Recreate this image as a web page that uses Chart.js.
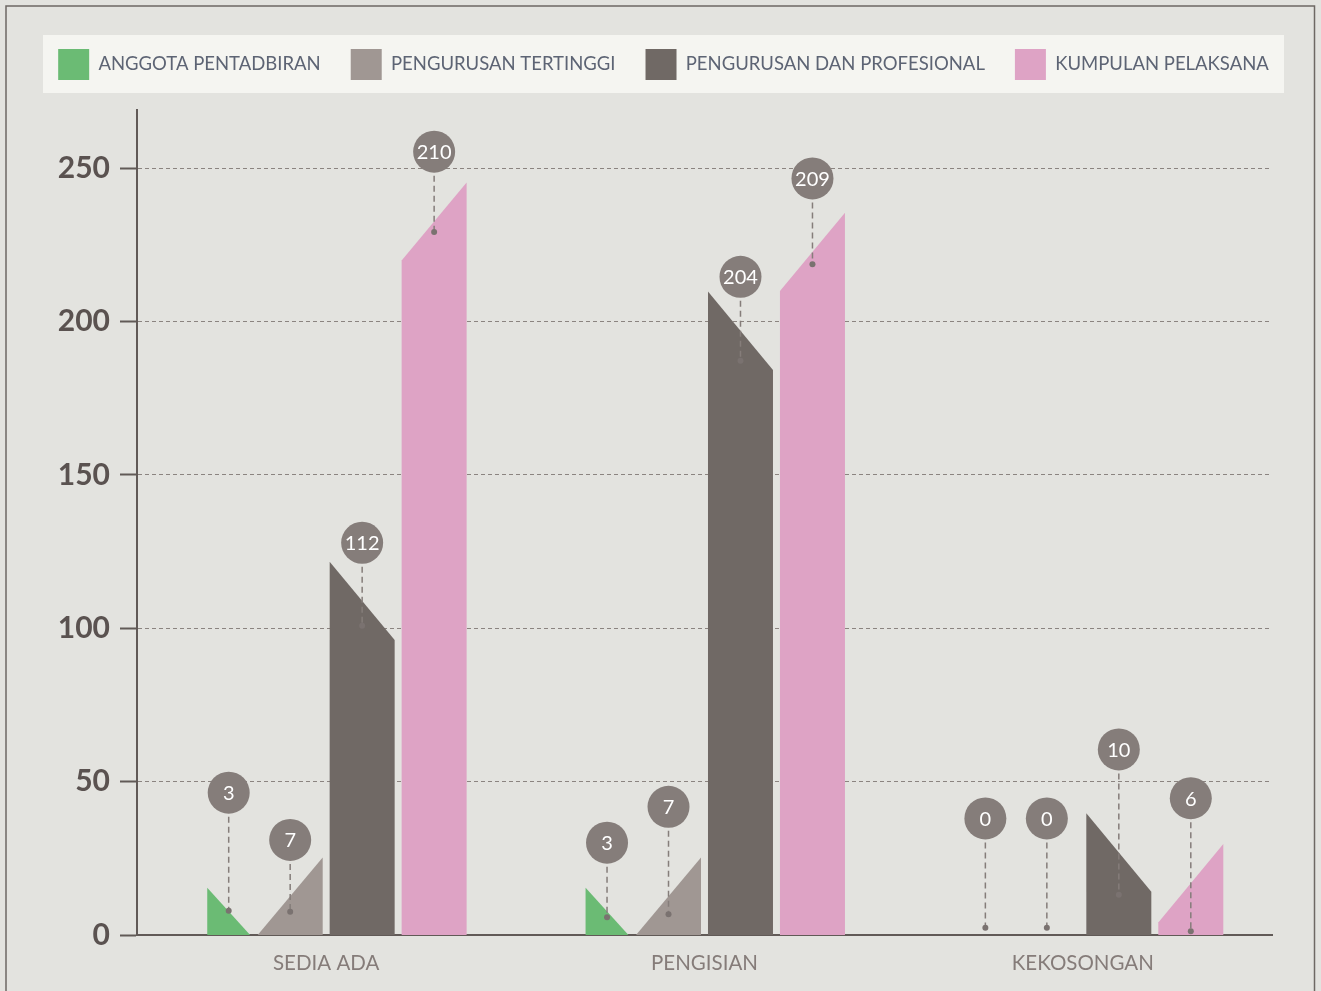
<!DOCTYPE html>
<html>
<head>
<meta charset="utf-8">
<style>
html,body{margin:0;padding:0;background:#e3e3df;}
#wrap{width:1321px;height:991px;position:relative;overflow:hidden;}
canvas{display:block;}
</style>
<script src="https://cdn.jsdelivr.net/npm/chart.js@4.4.1/dist/chart.umd.min.js"></script>
</head>
<body>
<div id="wrap"><canvas id="c" width="1321" height="991"></canvas></div>
<script>
// ---- data ----
const categories = ['SEDIA ADA', 'PENGISIAN', 'KEKOSONGAN'];
const seriesLabels = ['ANGGOTA PENTADBIRAN', 'PENGURUSAN TERTINGGI', 'PENGURUSAN DAN PROFESIONAL', 'KUMPULAN PELAKSANA'];

const anggotaPentadbiran    = [3, 3, 0];
const pengurusanTertinggi   = [7, 7, 0];
const pengurusanProfesional = [112, 204, 10];
const kumpulanPelaksana     = [210, 209, 6];

// drawn heights of the slanted shapes (left edge / right edge), in y-axis units
const anggotaShapeLeft     = [15.4, 15.4, 0];
const anggotaShapeRight    = [0, 0, 0];
const tertinggiShapeLeft   = [0, 0, 0];
const tertinggiShapeRight  = [25.3, 25.3, 0];
const profesionalShapeLeft = [121.7, 209.8, 39.7];
const profesionalShapeRight= [96.2, 184.2, 14.1];
const pelaksanaShapeLeft   = [219.9, 210.0, 4.1];
const pelaksanaShapeRight  = [245.4, 235.5, 29.7];

// callout bubble level and anchor dot level, in y-axis units
const anggotaBubble     = [46.4, 30.1, 38.0];
const anggotaAnchor     = [7.9, 5.8, 2.4];
const tertinggiBubble   = [31.0, 41.8, 38.0];
const tertinggiAnchor   = [7.6, 6.8, 2.4];
const profesionalBubble = [127.9, 214.6, 60.5];
const profesionalAnchor = [100.8, 187.2, 13.1];
const pelaksanaBubble   = [255.4, 246.7, 44.6];
const pelaksanaAnchor   = [229.2, 218.7, 1.2];

const yTicks = [0, 50, 100, 150, 200, 250];
const yMax = 269;

// ---- styles ----
const COLORS = ['#6bbb74', '#a09793', '#706965', '#dea3c5'];
const FONT = 'Lato, "Open Sans", sans-serif';

const slantPlugin = {
  id: 'slantBars',
  beforeDraw(chart) {
    const ctx = chart.ctx;
    ctx.save();
    ctx.fillStyle = '#e3e3df';
    ctx.fillRect(0, 0, chart.width, chart.height);
    ctx.strokeStyle = '#6e6864';
    ctx.lineWidth = 1.5;
    ctx.strokeRect(6, 6, chart.width - 12.5, chart.height + 20);
    ctx.fillStyle = '#f5f5f1';
    ctx.fillRect(43, 35, chart.width - 37 - 43, 58);
    ctx.restore();
  },
  beforeDatasetDraw(chart, args) {
    const meta = args.meta;
    const ds = chart.data.datasets[args.index];
    const y = chart.scales.y;
    const ctx = chart.ctx;
    const base = y.getPixelForValue(0);
    ctx.save();
    ctx.fillStyle = ds.backgroundColor;
    meta.data.forEach((bar, j) => {
      const hl = ds.shapeLeft[j], hr = ds.shapeRight[j];
      if (hl <= 0 && hr <= 0) return;
      const p = bar.getProps(['x', 'width'], true);
      const xl = p.x - p.width / 2, xr = p.x + p.width / 2;
      ctx.beginPath();
      ctx.moveTo(xl, base);
      ctx.lineTo(xl, y.getPixelForValue(Math.max(hl, 0)));
      ctx.lineTo(xr, y.getPixelForValue(Math.max(hr, 0)));
      ctx.lineTo(xr, base);
      ctx.closePath();
      ctx.fill();
    });
    ctx.restore();
    return false;
  },
  afterDatasetsDraw(chart) {
    const ctx = chart.ctx;
    const y = chart.scales.y;
    chart.data.datasets.forEach((ds, i) => {
      const meta = chart.getDatasetMeta(i);
      meta.data.forEach((bar, j) => {
        const x = bar.getProps(['x'], true).x;
        const cy = y.getPixelForValue(ds.bubble[j]);
        const dy = y.getPixelForValue(ds.anchor[j]);
        const r = 21;
        ctx.save();
        ctx.strokeStyle = '#857d7a';
        ctx.lineWidth = 1.5;
        ctx.setLineDash([6, 4]);
        ctx.beginPath();
        ctx.moveTo(x, cy + r + 3);
        ctx.lineTo(x, dy);
        ctx.stroke();
        ctx.setLineDash([]);
        ctx.fillStyle = '#7a7270';
        ctx.beginPath();
        ctx.arc(x, dy, 3, 0, Math.PI * 2);
        ctx.fill();
        ctx.fillStyle = '#857d7a';
        ctx.beginPath();
        ctx.arc(x, cy, r, 0, Math.PI * 2);
        ctx.fill();
        ctx.fillStyle = '#ffffff';
        ctx.font = '20px ' + FONT;
        ctx.textAlign = 'center';
        ctx.textBaseline = 'middle';
        ctx.fillText(String(ds.data[j]), x, cy + 1);
        ctx.restore();
      });
    });
  }
};

function makeDataset(idx, values, sl, sr, bubble, anchor, catPct, barPct) {
  return {
    label: seriesLabels[idx],
    data: values,
    backgroundColor: COLORS[idx],
    borderWidth: 0,
    categoryPercentage: catPct,
    barPercentage: barPct,
    shapeLeft: sl,
    shapeRight: sr,
    bubble: bubble,
    anchor: anchor
  };
}

new Chart(document.getElementById('c'), {
  type: 'bar',
  data: {
    labels: categories,
    datasets: [
      makeDataset(0, anggotaPentadbiran, anggotaShapeLeft, anggotaShapeRight, anggotaBubble, anggotaAnchor, 0.687, 0.66),
      makeDataset(1, pengurusanTertinggi, tertinggiShapeLeft, tertinggiShapeRight, tertinggiBubble, tertinggiAnchor, 0.761, 0.903),
      makeDataset(2, pengurusanProfesional, profesionalShapeLeft, profesionalShapeRight, profesionalBubble, profesionalAnchor, 0.761, 0.903),
      makeDataset(3, kumpulanPelaksana, pelaksanaShapeLeft, pelaksanaShapeRight, pelaksanaBubble, pelaksanaAnchor, 0.761, 0.903)
    ]
  },
  options: {
    responsive: false,
    animation: false,
    layout: { padding: { left: 6, right: 0, top: 19, bottom: 0 } },
    plugins: {
      tooltip: { enabled: false },
      legend: {
        position: 'top',
        labels: {
          boxWidth: 31,
          boxHeight: 31,
          padding: 30,
          color: '#5d6474',
          font: { family: FONT, size: 18.5 }
        }
      },
      title: {
        display: true,
        text: '',
        position: 'top',
        weight: 500,
        font: { size: 10, lineHeight: 1 },
        padding: { top: 0, bottom: 10 }
      }
    },
    scales: {
      x: {
        grid: { display: false, drawTicks: false },
        border: { display: true, color: '#615a57', width: 2 },
        ticks: { color: '#857c79', font: { family: FONT, size: 20.5 }, padding: 16 },
        afterFit(scale) { scale.height = 56; }
      },
      y: {
        min: 0,
        max: yMax,
        afterBuildTicks(scale) { scale.ticks = yTicks.map(v => ({ value: v })); },
        ticks: {
          padding: 10,
          color: '#5a5250',
          font: { family: FONT, size: 30, weight: 'bold' }
        },
        grid: {
          color: '#8b8480',
          lineWidth: 1,
          tickLength: 17,
          tickColor: '#615a57',
          tickWidth: 2
        },
        border: { display: true, color: '#615a57', width: 2, dash: [4, 3] },
        afterFit(scale) { scale.width = 131; }
      },
      yRightSpace: {
        position: 'right',
        display: true,
        grid: { display: false, drawTicks: false },
        border: { display: false },
        ticks: { display: false },
        afterFit(scale) { scale.width = 49; }
      }
    }
  },
  plugins: [slantPlugin]
});
</script>
</body>
</html>
